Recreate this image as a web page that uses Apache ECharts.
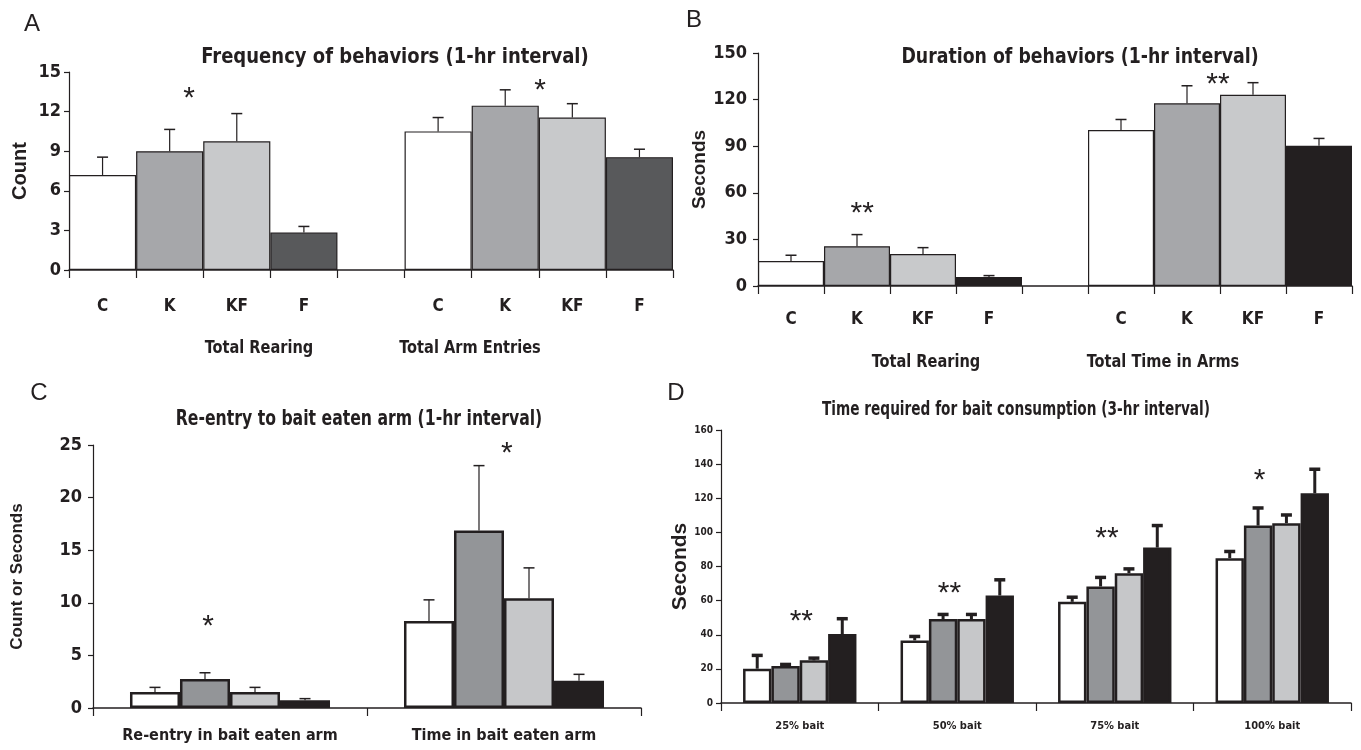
<!DOCTYPE html>
<html>
<head>
<meta charset="utf-8">
<script src="https://cdn.jsdelivr.net/npm/echarts@6/dist/echarts.min.js"></script>
<style>
  html, body { margin: 0; padding: 0; background: #fff; }
  #main { width: 1361px; height: 750px; }
</style>
</head>
<body>
<div id="main"></div>
<script>
// ---- data ----
var groupNames = ['C', 'K', 'KF', 'F'];
var abCategories = ['C', 'K', 'KF', 'F', '', 'C', 'K', 'KF', 'F'];

// A: frequency (count)
var freqRearing = [7.2, 9.0, 9.75, 2.85];
var freqRearingErr = [1.35, 1.65, 2.1, 0.45];
var freqArm = [10.5, 12.45, 11.55, 8.55];
var freqArmErr = [1.05, 1.2, 1.05, 0.6];

// B: duration (seconds)
var durRearing = [16.1, 25.6, 20.6, 5.8];
var durRearingErr = [3.7, 7.5, 4.1, 0.9];
var durArm = [100.4, 117.6, 123.1, 90.3];
var durArmErr = [6.8, 11.3, 7.8, 4.7];

// C: re-entry
var cCategories = ['Re-entry in bait eaten arm', 'Time in bait eaten arm'];
var cValues = [
  [1.52, 8.26],   // C
  [2.75, 16.87],  // K
  [1.52, 10.44],  // KF
  [0.73, 2.59]    // F
];
var cErr = [
  [0.44, 2.02],
  [0.6, 6.17],
  [0.44, 2.88],
  [0.16, 0.61]
];

// D: bait consumption
var dCategories = ['25% bait', '50% bait', '75% bait', '100% bait'];
var dValues = [
  [20.1, 36.7, 59.3, 84.9],
  [21.7, 49.2, 68.3, 104],
  [25.0, 49.2, 76.1, 105.4],
  [40.4, 63.0, 91.1, 122.9]
];
var dErr = [
  [7.8, 2.3, 2.7, 3.9],
  [0.9, 2.7, 5.3, 10.3],
  [1.3, 2.7, 2.5, 4.8],
  [9.0, 9.2, 12.9, 14.1]
];

// significance marks: [category index, offset in bands, y value, text]
var annotA = [[1, 0.29, 13.4, '*'], [6, 0.52, 14.0, '*']];
var annotB = [[1, 0.08, 50, '**'], [6, 0.47, 133, '**']];
var annotC = [[0, -0.08, 8.2, '*'], [1, 0.01, 24.7, '*']];
var annotD = [[0, 0.01, 51, '**'], [1, -0.05, 67.4, '**'], [2, -0.05, 99.6, '**'], [3, -0.08, 133.6, '*']];

// ---- styles ----
var INK = '#231f20';
var NARROW = "'Liberation Sans Narrow', 'Arial Narrow', 'DejaVu Sans Condensed', sans-serif";
var WIDE = "'Liberation Sans', Arial, sans-serif";
var colorsA = ['#ffffff', '#a6a7aa', '#c8c9cb', '#58595b'];
var colorsB = ['#ffffff', '#a6a7aa', '#c8c9cb', '#231f20'];
var colorsCD = ['#ffffff', '#939598', '#c6c7c9', '#231f20'];

function abData(left, right, colors) {
  var vals = left.concat([null], right);
  return vals.map(function (v, i) {
    if (v == null) return null;
    return { value: v, itemStyle: { color: colors[i < 4 ? i : i - 5] } };
  });
}
function abErr(left, right, le, re) {
  var out = [];
  left.forEach(function (v, i) { out.push([i, v, le[i]]); });
  right.forEach(function (v, i) { out.push([i + 5, v, re[i]]); });
  return out;
}

function errorSeries(gridIdx, data, opts) {
  return {
    type: 'custom',
    xAxisIndex: gridIdx, yAxisIndex: gridIdx,
    z: 5,
    data: data,
    renderItem: function (params, api) {
      var d = data[params.dataIndex];
      var base = api.coord([d[0], d[1]]);
      var top = api.coord([d[0], d[1] + d[2]]);
      var x = base[0];
      if (opts.slot >= 0) {
        var band = api.size([1, 0])[0];
        var barsW = band * (1 - opts.gap);
        var barW = barsW / opts.n;
        x = base[0] - barsW / 2 + (opts.slot + 0.5) * barW;
      }
      return {
        type: 'group',
        children: [
          { type: 'line', shape: { x1: x, y1: base[1], x2: x, y2: top[1] },
            style: { stroke: INK, lineWidth: opts.lw } },
          { type: 'line', shape: { x1: x - opts.capW / 2, y1: top[1], x2: x + opts.capW / 2, y2: top[1] },
            style: { stroke: INK, lineWidth: opts.capLw } }
        ]
      };
    }
  };
}

function annotSeries(gridIdx, data, size) {
  return {
    type: 'custom',
    xAxisIndex: gridIdx, yAxisIndex: gridIdx,
    z: 6,
    data: data.map(function (d) { return [d[0], d[2]]; }),
    renderItem: function (params, api) {
      var d = data[params.dataIndex];
      var p = api.coord([d[0], d[2]]);
      var band = api.size([1, 0])[0];
      return {
        type: 'text',
        style: {
          text: d[3], x: p[0] + d[1] * band, y: p[1] + size * 0.18,
          font: 'normal ' + size + 'px ' + WIDE, fill: INK,
          align: 'center', verticalAlign: 'middle',
          textAlign: 'center', textVerticalAlign: 'middle'
        }
      };
    }
  };
}

function xAxisBase(gridIdx, cats, fontSize, margin) {
  return {
    type: 'category', gridIndex: gridIdx, data: cats,
    axisLine: { lineStyle: { color: INK, width: 1.5 } },
    axisTick: { show: true, length: 8, lineStyle: { color: INK, width: 1.2 } },
    axisLabel: { color: INK, fontFamily: NARROW, fontWeight: 'bold', fontSize: fontSize, margin: margin, interval: 0 },
    splitLine: { show: false }
  };
}
function yAxisBase(gridIdx, max, interval, fontSize, margin, name, nameSize, nameGap) {
  return {
    type: 'value', gridIndex: gridIdx, min: 0, max: max, interval: interval,
    name: name, nameLocation: 'middle', nameGap: nameGap,
    nameTextStyle: { color: INK, fontFamily: WIDE, fontWeight: 'bold', fontSize: nameSize },
    axisLine: { show: true, lineStyle: { color: INK, width: 1.2 } },
    axisTick: { show: true, length: 5, lineStyle: { color: INK, width: 1.2 } },
    axisLabel: { color: INK, fontFamily: NARROW, fontWeight: 'bold', fontSize: fontSize, margin: margin },
    splitLine: { show: false }
  };
}

function groupedBars(gridIdx, values, colors, gap, bw) {
  return values.map(function (vals, i) {
    return {
      type: 'bar', xAxisIndex: gridIdx, yAxisIndex: gridIdx,
      name: groupNames[i], data: vals,
      barGap: '0%', barCategoryGap: (gap * 100) + '%',
      itemStyle: { color: colors[i], borderColor: INK, borderWidth: bw },
      silent: true
    };
  });
}

var series = [];
// A
series.push({
  type: 'bar', xAxisIndex: 0, yAxisIndex: 0, barCategoryGap: '0%',
  data: abData(freqRearing, freqArm, colorsA),
  itemStyle: { borderColor: INK, borderWidth: 1.2 }, silent: true
});
series.push(errorSeries(0, abErr(freqRearing, freqArm, freqRearingErr, freqArmErr), { slot: -1, lw: 1.2, capW: 11, capLw: 1.5 }));
series.push(annotSeries(0, annotA, 30));
// B
series.push({
  type: 'bar', xAxisIndex: 1, yAxisIndex: 1, barCategoryGap: '0%',
  data: abData(durRearing, durArm, colorsB),
  itemStyle: { borderColor: INK, borderWidth: 1.2 }, silent: true
});
series.push(errorSeries(1, abErr(durRearing, durArm, durRearingErr, durArmErr), { slot: -1, lw: 1.2, capW: 11, capLw: 1.5 }));
series.push(annotSeries(1, annotB, 30));
// C
var cGap = 0.27;
series = series.concat(groupedBars(2, cValues, colorsCD, cGap, 2.5));
cValues.forEach(function (vals, i) {
  var d = vals.map(function (v, j) { return [j, v, cErr[i][j]]; });
  series.push(errorSeries(2, d, { slot: i, n: 4, gap: cGap, lw: 1.2, capW: 11, capLw: 1.5 }));
});
series.push(annotSeries(2, annotC, 30));
// D
var dGap = 0.28;
series = series.concat(groupedBars(3, dValues, colorsCD, dGap, 2.5));
dValues.forEach(function (vals, i) {
  var d = vals.map(function (v, j) { return [j, v, dErr[i][j]]; });
  series.push(errorSeries(3, d, { slot: i, n: 4, gap: dGap, lw: 3, capW: 11, capLw: 3.5 }));
});
series.push(annotSeries(3, annotD, 30));

function label(text, x, y, font, sx) {
  return {
    type: 'text', x: x, y: y, scaleX: sx || 1,
    style: { text: text, font: font, fill: INK,
      align: 'center', verticalAlign: 'middle', textAlign: 'center', textVerticalAlign: 'middle' }
  };
}

var option = {
  animation: false,
  backgroundColor: '#ffffff',
  grid: [
    { left: 69, right: 688, top: 72, bottom: 480 },
    { left: 758, right: 9, top: 53, bottom: 464 },
    { left: 93, right: 720, top: 445, bottom: 42 },
    { left: 721, right: 10, top: 430, bottom: 47 }
  ],
  xAxis: [
    xAxisBase(0, abCategories, 17, 28),
    xAxisBase(1, abCategories, 17, 25),
    xAxisBase(2, cCategories, 16, 20),
    xAxisBase(3, dCategories, 11, 18)
  ],
  yAxis: [
    yAxisBase(0, 15, 3, 18, 8, 'Count', 20, 39),
    yAxisBase(1, 150, 30, 18, 11, 'Seconds', 19, 48),
    yAxisBase(2, 25, 5, 18, 11, 'Count or Seconds', 17, 67),
    yAxisBase(3, 160, 20, 10, 8, 'Seconds', 21, 28)
  ],
  series: series,
  graphic: [
    label('A', 32, 24, 'normal 24px ' + WIDE),
    label('B', 694, 20, 'normal 24px ' + WIDE),
    label('C', 39, 393, 'normal 24px ' + WIDE),
    label('D', 676, 393, 'normal 24px ' + WIDE),
    label('Frequency of behaviors (1-hr interval)', 395, 57, 'bold 22px ' + NARROW, 0.91),
    label('Duration of behaviors (1-hr interval)', 1080, 57, 'bold 22px ' + NARROW, 0.876),
    label('Re-entry to bait eaten arm (1-hr interval)', 359, 420, 'bold 21px ' + NARROW, 0.83),
    label('Time required for bait consumption (3-hr interval)', 1016, 410, 'bold 19px ' + NARROW, 0.80),
    label('Total Rearing', 259, 348, 'bold 18px ' + NARROW, 0.9),
    label('Total Arm Entries', 470, 348, 'bold 18px ' + NARROW, 0.9),
    label('Total Rearing', 926, 362, 'bold 18px ' + NARROW, 0.9),
    label('Total Time in Arms', 1163, 362, 'bold 18px ' + NARROW, 0.9)
  ]
};

var chart = echarts.init(document.getElementById('main'), null, { renderer: 'canvas' });
chart.setOption(option);
</script>
</body>
</html>
